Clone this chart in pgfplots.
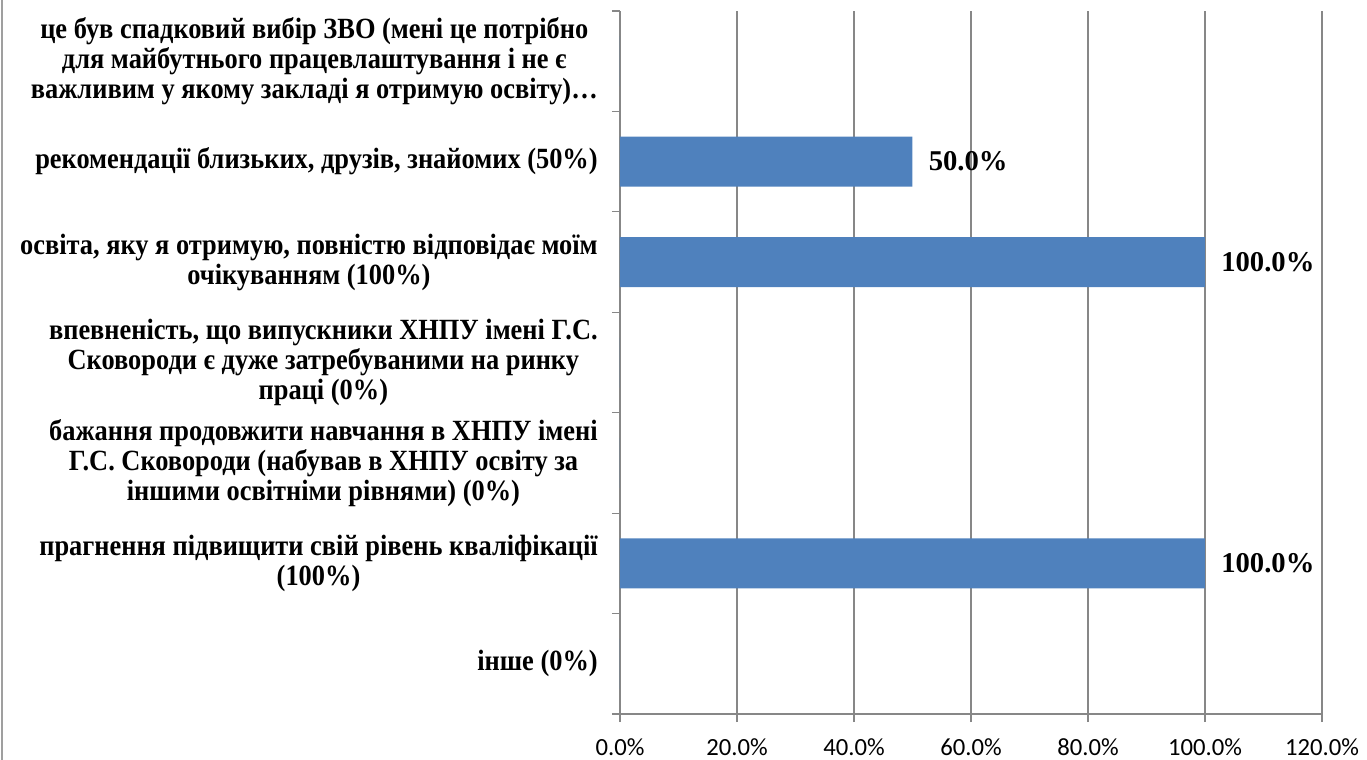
\documentclass[border=0pt]{standalone}
\usepackage{fontspec}
\setmainfont{Liberation Serif}
\newfontfamily\catfont{Liberation Serif}[FakeStretch=0.9]
\newfontfamily\tickfont{Carlito}
\usepackage{pgfplots}
\pgfplotsset{compat=1.18}
\definecolor{barblue}{HTML}{4F81BD}
\definecolor{gridgray}{HTML}{878787}
\begin{document}
\begin{tikzpicture}
\begin{axis}[
  at={(0,0)}, anchor=south west, scale only axis,
  width=526.5pt, height=527.25pt,
  xbar, bar width=37.5pt,
  xmin=0, xmax=120, ymin=-0.5, ymax=6.5,
  axis x line*=bottom, axis y line*=left,
  axis line style={gridgray, line width=0.9pt},
  xtick={0,20,...,120},
  /pgf/number format/assume math mode=true,
  xticklabel={\tickfont\fontsize{18.5}{18.5}\selectfont\pgfmathprintnumber[fixed,fixed zerofill,precision=1]{\tick}\%},
  xticklabel style={anchor=north, inner sep=0pt, yshift=-12pt},
  xtick align=outside,
  x tick style={gridgray, line width=0.9pt},
  major tick length=6pt,
  xmajorgrids, grid style={gridgray, line width=0.9pt},
  ytick={0,...,6},
  y tick style={draw=none},
  ytick align=inside,
  yticklabels={
    {інше (0\%)},
    {прагнення підвищити свій рівень кваліфікації\\(100\%)},
    {бажання продовжити навчання в ХНПУ імені\\Г.С. Сковороди (набував в ХНПУ освіту за\\іншими освітніми рівнями) (0\%)},
    {впевненість, що випускники ХНПУ імені Г.С.\\Сковороди є дуже затребуваними на ринку\\праці (0\%)},
    {освіта, яку я отримую, повністю відповідає моїм\\очікуванням (100\%)},
    {рекомендації близьких, друзів, знайомих (50\%)},
    {це був спадковий вибір ЗВО (мені це потрібно\\для майбутнього працевлаштування і не є\\важливим у якому закладі я отримую освіту)…}
  },
  yticklabel style={anchor=east, align=center, inner sep=0pt, xshift=-16.5pt,
    font=\catfont\bfseries\fontsize{22}{22.5}\selectfont},
  extra y ticks={-0.5,0.5,...,6.5},
  extra y tick labels={},
  extra y tick style={ytick align=outside, y tick style={draw=gridgray, line width=0.9pt}, ymajorgrids=false},
  nodes near coords={\pgfmathfloatifflags{\pgfplotspointmeta}{0}{}{\pgfmathprintnumber[fixed,fixed zerofill,precision=1]{\pgfplotspointmeta}\%}},
  point meta=x,
  nodes near coords style={anchor=west, inner sep=0pt, xshift=12pt, font=\bfseries\fontsize{21.5}{21.5}\selectfont, text=black},
  clip=false,
]
\addplot[fill=barblue, draw=none] coordinates {
  (0,0) (100,1) (0,2) (0,3) (100,4) (50,5) (0,6)
};
\end{axis}
\draw[gridgray!80, line width=1.5pt] (-463.5pt,-34.5pt) -- (-463.5pt,535.5pt);
\pgfresetboundingbox
\useasboundingbox (-465pt,-34.5pt) rectangle (560.25pt,535.5pt);
\end{tikzpicture}
\end{document}
